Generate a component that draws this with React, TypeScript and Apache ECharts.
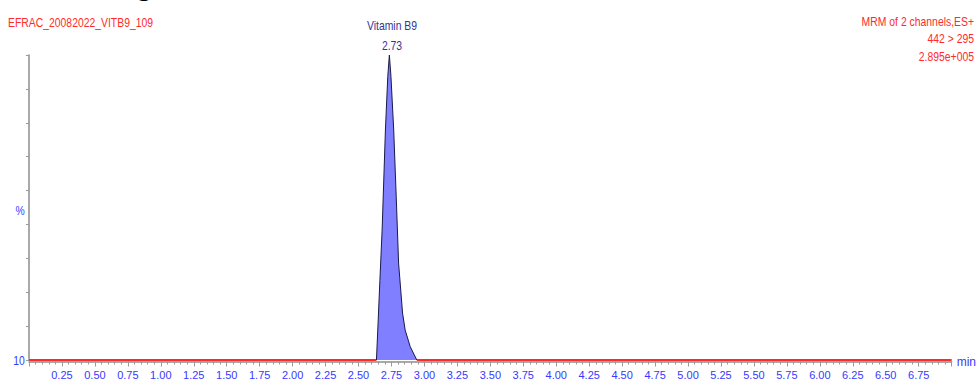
import React, { useEffect, useRef } from "react";
import * as echarts from "echarts";

const peakTimes = [2.636, 2.646, 2.662, 2.679, 2.704, 2.722, 2.734, 2.746, 2.767, 2.786, 2.804, 2.834, 2.854, 2.892, 2.942];
const peakIntensity = [0, 9.8, 26, 42.6, 75.4, 93, 100, 93, 75.4, 53.5, 31.8, 15.4, 9.8, 4.4, 0];
const baselineTimes = [0, 2.636, 2.79, 2.942, 7.0];
const baselineValues: (number | null)[] = [0, 0, null, 0, 0];

const sampleName = "EFRAC_20082022_VITB9_109";
const peakName = "Vitamin B9";
const peakRT = "2.73";
const infoLines = ["MRM of 2 channels,ES+", "442 > 295", "2.895e+005"];
const yAxisLabel = "%";
const yBaseLabel = "10";
const xAxisName = "min";

const FONT = "'Liberation Sans', Arial, sans-serif";
const BLUE = "#3838ff";
const RED = "#ff2a2a";
const NARROW = 0.8;

export default function App() {
  const ref = useRef<HTMLDivElement>(null);
  useEffect(() => {
    document.body.style.margin = "0";
    const chart = echarts.init(ref.current!, null, { renderer: "svg" });
    const txt = (text: string, x: number, y: number, fill: string, align: string, size = 13) => ({
      type: "text",
      x,
      y,
      scaleX: NARROW,
      style: { text, fill, font: `${size}px ${FONT}`, align, verticalAlign: "middle" },
    });
    chart.setOption({
      animation: false,
      backgroundColor: "#ffffff",
      grid: { left: 29, right: 21, top: 55, bottom: 25, containLabel: false },
      xAxis: {
        type: "value",
        min: 0,
        max: 7,
        interval: 0.25,
        offset: 1.5,
        name: xAxisName,
        nameLocation: "end",
        nameGap: 5,
        nameTextStyle: { color: BLUE, fontFamily: FONT, fontSize: 12, verticalAlign: "middle" },
        axisLine: { show: true, onZero: false, lineStyle: { color: "#8c8c8c", width: 1.5 } },
        axisTick: { show: true, length: 5, lineStyle: { color: "#9a9a9a" } },
        minorTick: { show: true, splitNumber: 5, length: 3, lineStyle: { color: "#9a9a9a" } },
        splitLine: { show: false },
        axisLabel: {
          color: BLUE,
          fontFamily: FONT,
          fontSize: 11,
          margin: 8,
          formatter: (v: number) => (v <= 0 || v >= 7 ? "" : v.toFixed(2)),
        },
      },
      yAxis: {
        type: "value",
        min: 0,
        max: 100,
        interval: 100 / 9,
        axisLine: { show: true, lineStyle: { color: "#8c8c8c", width: 1.5 } },
        axisTick: { show: true, length: 3, lineStyle: { color: "#9a9a9a" } },
        axisLabel: { show: false },
        splitLine: { show: false },
      },
      graphic: [
        { type: "text", x: 137, y: -29, style: { text: "g", fill: "#000", font: "28px 'Liberation Serif', serif" } },
        txt(sampleName, 8, 22, RED, "left"),
        txt(peakName, 392, 25, "#333399", "center"),
        txt(peakRT, 392, 45, "#333399", "center"),
        txt(infoLines[0], 974, 21, RED, "right"),
        txt(infoLines[1], 974, 38, RED, "right"),
        txt(infoLines[2], 974, 56, RED, "right"),
        txt(yAxisLabel, 20, 210, BLUE, "center"),
        txt(yBaseLabel, 19, 360, BLUE, "center"),
      ],
      series: [
        {
          type: "line",
          data: baselineTimes.map((t, i) => [t, baselineValues[i]]),
          connectNulls: false,
          showSymbol: false,
          symbol: "none",
          lineStyle: { color: RED, width: 2 },
          z: 3,
        },
        {
          type: "line",
          data: peakTimes.map((t, i) => [t, peakIntensity[i]]),
          showSymbol: false,
          symbol: "none",
          lineStyle: { color: "#1a1a4a", width: 1 },
          areaStyle: { color: "#7f7fff", opacity: 1 },
          z: 4,
        },
      ],
    });
    return () => chart.dispose();
  }, []);
  return <div ref={ref} style={{ width: 979, height: 385 }} />;
}
